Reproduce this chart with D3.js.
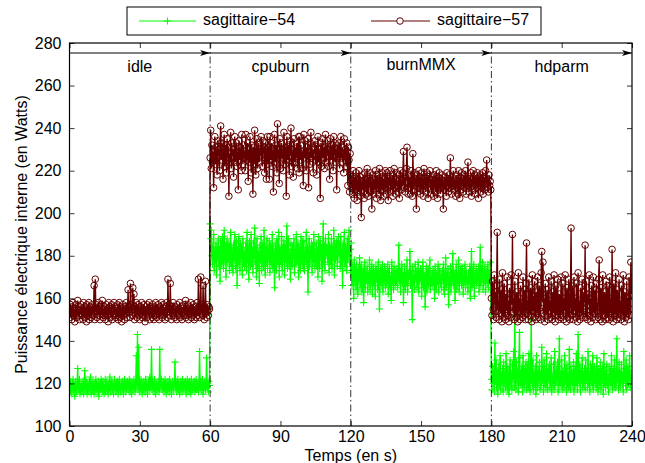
<!DOCTYPE html>
<html><head><meta charset="utf-8">
<script src="https://cdn.jsdelivr.net/npm/d3@7"></script>
<style>
body{margin:0;background:#fff;}
svg{display:block;}
text{font-family:"Liberation Sans",Arial,Helvetica,sans-serif;}
</style></head>
<body><svg id="chart" width="645" height="463"></svg>
<script>
// ---- data ----
const timeStep = 0.25; // seconds between samples
const xTicks = [0,30,60,90,120,150,180,210,240];
const yTicks = [100,120,140,160,180,200,220,240,260,280];
const phases = ["idle","cpuburn","burnMMX","hdparm"];
const phaseStart = [0,60,120,180];
const phaseEnd = [60,120,180,240];
const phaseLabelY = [268.5,268.5,269.5,268.5];
const arrowY = 275.3;
const seriesNames = ["sagittaire\u221254","sagittaire\u221257"];

const s54Idle = [
119,116,121,118,115,120,122,117,119,114,121,118,116,120,127,117,119,122,115,118,
120,116,118,121,115,119,126,117,122,118,115,120,119,116,121,118,123,115,119,117,
121,118,115,120,117,122,119,116,118,121,114,119,120,117,122,118,116,121,119,115,
118,122,116,119,121,117,115,120,118,123,116,119,121,117,120,115,118,122,119,116,
120,117,121,115,119,122,118,116,120,119,117,121,115,118,122,119,116,120,118,121,
117,119,122,116,118,121,115,120,119,117,122,118,116,120,133,119,143,117,137,121,
116,119,122,118,115,120,117,121,119,116,122,118,120,115,119,121,117,123,118,120,
136,117,121,119,116,122,118,115,120,119,117,121,118,116,136,120,119,122,117,118,
121,116,119,122,118,115,120,117,121,119,116,122,118,120,115,119,121,117,118,120,
130,118,121,116,119,122,117,120,115,119,121,118,116,122,119,117,120,118,121,115,
119,122,117,120,116,121,118,115,122,119,117,120,118,121,116,119,122,117,120,118,
116,120,135,118,121,117,119,122,115,120,118,121,117,119,132,118,120,116,121,119];
const s54Cpuburn = [
195,188,192,180,176,184,190,173,182,178,186,171,184,179,188,175,183,168,187,180,
176,189,181,174,192,178,185,170,183,188,177,182,186,173,180,191,175,184,179,172,
185,178,190,174,181,187,166,183,176,189,180,173,186,179,184,171,188,177,182,175,
180,186,173,191,178,184,169,187,181,175,190,177,183,172,186,179,193,176,184,170,
188,174,182,179,167,185,178,189,173,181,186,175,192,180,171,184,177,188,174,183,
179,187,172,185,181,176,190,174,183,178,165,186,180,173,188,182,176,191,170,184,
182,176,189,173,184,179,187,171,185,180,177,194,174,183,188,175,181,169,186,178,
175,185,180,188,172,183,177,190,176,182,186,170,184,179,173,189,181,176,187,174,
187,173,182,178,191,176,184,163,180,188,175,183,179,186,172,185,177,190,181,174,
178,186,175,183,170,189,181,174,187,179,184,168,182,195,176,185,173,188,180,183,
184,177,190,172,185,180,176,188,174,183,179,192,171,186,178,182,187,175,181,189,
180,185,174,189,177,183,166,186,179,191,175,184,181,173,188,178,185,192,177,183];
const s54BurnMMX = [
172,186,166,175,170,160,178,168,173,164,176,170,162,174,168,179,165,171,176,163,
170,174,158,168,177,165,172,169,175,163,171,167,178,164,173,169,176,162,170,174,
166,172,161,175,169,173,164,177,168,155,171,174,166,170,176,163,172,168,175,165,
173,167,170,176,162,171,174,165,169,159,177,168,172,164,175,170,166,173,168,174,
165,172,185,168,174,163,170,176,167,172,158,169,175,164,171,167,178,163,172,169,
171,182,166,173,169,150,175,168,171,164,176,169,173,165,170,177,163,172,168,174,
174,161,170,177,165,172,168,156,171,175,163,169,174,166,172,178,164,170,167,173,
166,173,169,160,175,170,164,172,168,176,163,171,174,167,170,165,173,169,176,164,
162,171,179,165,172,168,174,157,170,166,175,163,172,168,181,166,173,169,159,171,
176,164,171,167,178,163,172,169,175,166,170,174,162,171,168,176,165,173,170,167,
163,172,168,175,160,170,182,165,173,167,176,161,171,169,174,166,172,168,175,163,
170,184,166,174,169,177,164,172,168,175,163,171,173,167,176,165,172,169,177,164];
const s54Hdparm = [
122,117,128,120,125,116,139,121,131,118,126,115,123,129,119,133,117,124,121,127,
116,130,120,125,118,134,122,117,128,121,115,126,131,119,124,117,129,122,135,118,
152,123,117,130,121,126,116,132,144,119,125,120,128,116,133,122,118,127,121,130,
117,124,129,118,134,121,116,127,150,122,119,131,117,125,120,128,115,133,123,118,
126,121,130,117,124,119,137,122,128,116,131,120,125,118,134,121,117,127,122,129,
118,125,132,116,123,120,129,117,135,122,119,126,121,130,116,128,141,119,124,120,
131,117,126,122,118,133,121,127,116,129,120,124,118,136,122,117,128,121,125,119,
130,116,123,128,119,134,121,117,143,125,120,129,116,126,122,132,118,124,120,127,
117,131,122,126,118,135,120,124,116,129,121,127,119,133,117,123,128,120,125,118,
132,121,116,127,123,119,130,117,125,122,128,115,134,120,126,118,124,129,119,123,
116,128,121,126,119,133,122,117,127,120,131,118,124,119,141,122,126,117,130,121,
118,125,129,120,124,116,135,122,127,119,131,117,123,128,120,126,133,118,124,121];

const s57Idle = [
154,151,157,153,150,156,158,152,155,149,153,157,151,155,159,152,154,150,156,153,
157,152,155,150,158,153,151,156,154,149,157,152,155,158,150,154,156,151,153,157,
152,155,166,150,169,154,157,151,155,158,152,156,150,154,157,153,159,151,155,152,
156,150,154,157,152,155,149,158,153,156,151,155,157,150,154,152,158,153,156,151,
155,152,157,150,154,158,151,156,153,149,155,157,152,154,150,156,153,158,151,155,
164,153,156,151,167,154,157,152,165,155,162,150,156,153,158,151,155,157,152,154,
150,156,153,158,151,155,152,157,154,149,156,153,151,157,155,152,158,150,154,156,
153,151,157,154,150,156,152,158,155,151,154,157,153,150,156,152,155,158,151,154,
157,152,155,150,156,153,158,151,169,154,157,152,167,155,150,156,153,158,152,155,
151,156,154,150,157,153,155,152,158,151,154,156,150,155,153,157,152,154,159,151,
155,152,157,150,154,156,153,158,151,155,152,157,154,150,156,153,151,155,158,152,
169,154,151,156,170,153,157,152,166,155,150,156,168,153,151,157,154,152,156,155];
const s57Cpuburn = [
226,239,221,232,224,229,212,230,236,223,231,226,218,234,227,230,220,233,241,225,
233,227,216,230,237,222,229,232,219,235,226,231,208,228,224,238,221,233,227,230,
217,230,236,224,228,233,222,229,211,234,225,231,227,220,237,228,223,232,226,229,
220,237,228,225,233,215,230,224,236,227,219,232,226,209,231,223,239,228,218,229,
235,221,227,233,224,230,229,236,226,222,234,228,231,219,233,225,216,230,236,223,
231,216,236,228,225,233,222,230,210,229,237,224,232,227,219,242,226,230,214,235,
221,228,233,226,230,220,238,227,223,231,208,236,225,229,232,218,234,227,240,222,
230,224,217,235,228,224,231,226,233,221,228,236,219,236,225,232,227,221,229,213,
237,226,234,229,220,231,227,235,212,229,223,233,238,226,231,224,219,230,228,234,
225,232,218,229,236,224,230,227,207,233,222,228,235,226,231,221,229,237,224,230,
227,234,222,230,216,235,228,225,232,229,220,236,227,233,224,230,211,232,226,229,
233,221,229,236,226,231,224,228,219,235,227,230,222,233,229,213,231,225,210,228];
const s57BurnMMX = [
218,212,216,209,220,214,207,217,211,219,213,206,216,210,220,214,208,217,198,215,
211,218,213,207,219,212,216,209,221,214,208,217,212,219,210,215,202,218,213,209,
216,211,220,214,207,218,212,216,209,221,213,206,217,211,219,214,208,216,212,220,
209,215,219,212,206,217,213,220,210,216,211,218,208,214,221,212,216,209,219,213,
215,210,218,207,214,220,211,216,213,219,229,212,217,210,215,221,231,214,209,218,
212,217,209,220,214,208,228,215,211,219,213,216,202,218,210,215,220,212,217,209,
214,219,211,216,208,221,213,217,210,215,219,212,207,218,214,220,211,216,209,217,
213,208,218,212,216,210,220,214,207,217,211,219,215,209,216,212,218,213,202,215,
211,217,214,208,219,213,216,210,218,212,226,215,209,217,213,220,211,216,214,208,
218,212,215,209,220,214,207,217,211,219,213,216,210,218,212,215,220,209,216,213,
224,214,210,217,212,219,208,216,213,220,211,215,218,209,216,212,219,214,207,217,
213,218,210,216,212,219,209,215,217,211,220,214,225,212,216,210,218,213,215,211];
const s57Hdparm = [
160,152,168,155,150,171,157,163,151,166,191,154,159,150,169,156,153,164,149,172,
155,151,167,158,150,162,154,170,152,159,149,165,156,151,171,157,190,153,160,150,
168,155,151,163,157,149,172,154,160,150,166,153,158,151,170,156,152,164,150,167,
186,153,159,150,169,155,152,165,157,149,171,154,161,151,168,156,150,163,153,170,
157,151,166,154,150,172,182,158,177,153,160,149,167,155,152,164,157,150,170,154,
159,151,168,156,150,163,153,171,155,149,166,158,152,169,154,150,162,157,151,170,
156,152,167,150,160,154,171,153,149,165,158,151,169,155,150,163,193,152,166,157,
150,170,154,160,151,167,156,149,172,153,159,150,165,157,152,169,155,151,163,158,
185,151,168,154,150,162,157,171,152,160,149,166,155,151,170,156,153,164,150,167,
154,158,151,169,178,153,150,165,157,149,171,155,152,163,158,150,168,154,151,166,
157,150,170,153,160,151,183,156,149,167,154,152,172,158,150,164,155,151,169,153,
159,150,166,156,152,171,154,149,163,157,151,168,153,160,150,170,155,152,177,162];

const s54 = [].concat(s54Idle, s54Cpuburn, s54BurnMMX, s54Hdparm);
const s57 = [].concat(s57Idle, s57Cpuburn, s57BurnMMX, s57Hdparm);

// ---- chart ----
const svg = d3.select("#chart");
const L = 69.5, R = 632, T = 43, B = 426;
const FS = 16;
const x = d3.scaleLinear().domain([0,240]).range([L,R]);
const y = d3.scaleLinear().domain([100,280]).range([B,T]);
const green = "#00ff00", red = "#660000";

svg.append("rect").attr("width",645).attr("height",463).attr("fill","#fff");

const defs = svg.append("defs");
defs.append("clipPath").attr("id","clip")
  .append("rect").attr("x",L).attr("y",T).attr("width",R-L).attr("height",B-T);

const plot = svg.append("g").attr("clip-path","url(#clip)");
const line = d3.line().x((d,i)=>x(i*timeStep)).y(d=>y(d));

// green series
plot.append("path").datum(s54).attr("d",line).attr("fill","none")
  .attr("stroke",green).attr("stroke-width",1.4);
const plus = "M-3.5,0H3.5M0,-3.5V3.5";
plot.append("g").selectAll("path").data(s54).join("path")
  .attr("transform",(d,i)=>`translate(${x(i*timeStep)},${y(d)})`)
  .attr("d",plus).attr("stroke",green).attr("stroke-width",1.1).attr("fill","none");

// red series
plot.append("path").datum(s57).attr("d",line).attr("fill","none")
  .attr("stroke",red).attr("stroke-width",1.4);
plot.append("g").selectAll("circle").data(s57).join("circle")
  .attr("cx",(d,i)=>x(i*timeStep)).attr("cy",d=>y(d)).attr("r",3.3)
  .attr("fill","none").attr("stroke",red).attr("stroke-width",1);

// phase separators (dash-dot)
svg.append("g").selectAll("line").data(phaseStart.slice(1)).join("line")
  .attr("x1",d=>x(d)).attr("x2",d=>x(d)).attr("y1",y(100)).attr("y2",y(280))
  .attr("stroke","#000").attr("stroke-width",0.8).attr("stroke-dasharray","7,3,1.5,3");

// arrows
defs.append("marker").attr("id","arr").attr("viewBox","0 0 10 6")
  .attr("refX",10).attr("refY",3).attr("markerWidth",10).attr("markerHeight",6)
  .attr("markerUnits","userSpaceOnUse").attr("orient","auto")
  .append("path").attr("d","M0,0L10,3L0,6L2.5,3Z").attr("fill","#000");
svg.append("g").selectAll("line").data(phases).join("line")
  .attr("x1",(d,i)=>x(phaseStart[i])).attr("x2",(d,i)=>x(phaseEnd[i]))
  .attr("y1",y(arrowY)).attr("y2",y(arrowY))
  .attr("stroke","#000").attr("stroke-width",1).attr("marker-end","url(#arr)");
svg.append("g").selectAll("text").data(phases).join("text")
  .attr("x",(d,i)=>x((phaseStart[i]+phaseEnd[i])/2))
  .attr("y",(d,i)=>y(phaseLabelY[i]))
  .attr("text-anchor","middle").attr("dominant-baseline","middle")
  .attr("font-size",FS).text(d=>d);

// axes
const ax = (g)=>{g.select(".domain").remove(); g.selectAll(".tick line").attr("stroke","#000").attr("stroke-width",0.8);
  g.selectAll("text").attr("font-size",FS).attr("fill","#000").attr("font-family","'Liberation Sans',Arial,sans-serif");};
svg.append("g").attr("transform",`translate(0,${B})`)
  .call(d3.axisBottom(x).tickValues(xTicks).tickSize(-5).tickPadding(5).tickFormat(d3.format("d"))).call(ax);
svg.append("g").attr("transform",`translate(0,${T})`)
  .call(d3.axisTop(x).tickValues(xTicks).tickSize(-5).tickFormat("")).call(ax);
svg.append("g").attr("transform",`translate(${L},0)`)
  .call(d3.axisLeft(y).tickValues(yTicks).tickSize(-5).tickPadding(8).tickFormat(d3.format("d"))).call(ax);
svg.append("g").attr("transform",`translate(${R},0)`)
  .call(d3.axisRight(y).tickValues(yTicks).tickSize(-5).tickFormat("")).call(ax);
svg.append("rect").attr("x",L).attr("y",T).attr("width",R-L).attr("height",B-T)
  .attr("fill","none").attr("stroke","#000").attr("stroke-width",1.2);

// axis titles
svg.append("text").attr("x",(L+R)/2).attr("y",461).attr("text-anchor","middle")
  .attr("font-size",FS).text("Temps (en s)");
svg.append("text").attr("transform",`translate(27,${(T+B)/2}) rotate(-90)`)
  .attr("text-anchor","middle").attr("font-size",FS)
  .text("Puissance électrique interne (en Watts)");

// legend
const lg = svg.append("g");
lg.append("rect").attr("x",127).attr("y",7).attr("width",414).attr("height",28)
  .attr("fill","#fff").attr("stroke","#000").attr("stroke-width",1);
const ly = 21;
lg.append("line").attr("x1",139).attr("x2",196).attr("y1",ly).attr("y2",ly).attr("stroke",green).attr("stroke-width",1);
lg.append("path").attr("transform",`translate(167.5,${ly})`).attr("d",plus).attr("stroke",green).attr("stroke-width",1);
lg.append("text").attr("x",203).attr("y",ly).attr("dominant-baseline","middle").attr("font-size",FS).text(seriesNames[0]);
lg.append("line").attr("x1",371).attr("x2",430).attr("y1",ly).attr("y2",ly).attr("stroke",red).attr("stroke-width",1);
lg.append("circle").attr("cx",400).attr("cy",ly).attr("r",3.3).attr("fill","#fff").attr("stroke",red).attr("stroke-width",1);
lg.append("text").attr("x",437).attr("y",ly).attr("dominant-baseline","middle").attr("font-size",FS).text(seriesNames[1]);
</script></body></html>
